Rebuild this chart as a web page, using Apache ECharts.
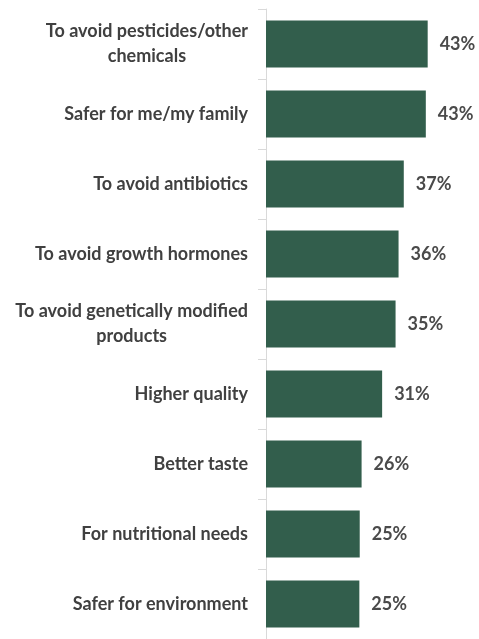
<!DOCTYPE html>
<html>
<head>
<meta charset="utf-8">
<script src="https://cdn.jsdelivr.net/npm/echarts@6/dist/echarts.min.js"></script>
<style>
html,body{margin:0;padding:0;background:#fff;}
#chart{width:479px;height:639px;}
</style>
</head>
<body>
<div id="chart"></div>
<script>
const categories = [
  "To avoid pesticides/other\nchemicals",
  "Safer for me/my family",
  "To avoid antibiotics",
  "To avoid growth hormones",
  "To avoid genetically modified\nproducts",
  "Higher quality",
  "Better taste",
  "For nutritional needs",
  "Safer for environment"
];
const values = [43.3, 42.8, 36.9, 35.5, 34.7, 31.1, 25.6, 25.1, 25.0];

const chart = echarts.init(document.getElementById('chart'));
chart.setOption({
  animation: false,
  backgroundColor: '#ffffff',
  grid: { left: 266, top: 9, width: 186.7, height: 635 },
  xAxis: {
    type: 'value', min: 0, max: 50, show: false
  },
  yAxis: {
    type: 'category',
    data: categories,
    inverse: true,
    axisLine: { show: true, lineStyle: { color: '#d9d9d9', width: 1 } },
    axisTick: { show: true, length: 8, lineStyle: { color: '#d9d9d9' } },
    axisLabel: {
      margin: 18,
      fontFamily: 'Lato',
      fontWeight: 'bold',
      fontSize: 18,
      color: '#404040',
      lineHeight: 25,
      formatter: function (v) {
        return v.split('\n').map(function (s) { return '{c|' + s + '}'; }).join('\n');
      },
      rich: {
        c: { align: 'center', fontFamily: 'Lato', fontWeight: 'bold', fontSize: 18, color: '#404040', lineHeight: 25 }
      }
    }
  },
  series: [{
    type: 'bar',
    data: values,
    barCategoryGap: '33%',
    itemStyle: { color: '#325e4c' },
    label: {
      show: true,
      position: 'right',
      distance: 12,
      fontFamily: 'Lato',
      fontWeight: 'bold',
      fontSize: 18,
      color: '#4a4a4a',
      formatter: function (p) { return Math.round(p.value) + '%'; }
    }
  }]
});
</script>
</body>
</html>
